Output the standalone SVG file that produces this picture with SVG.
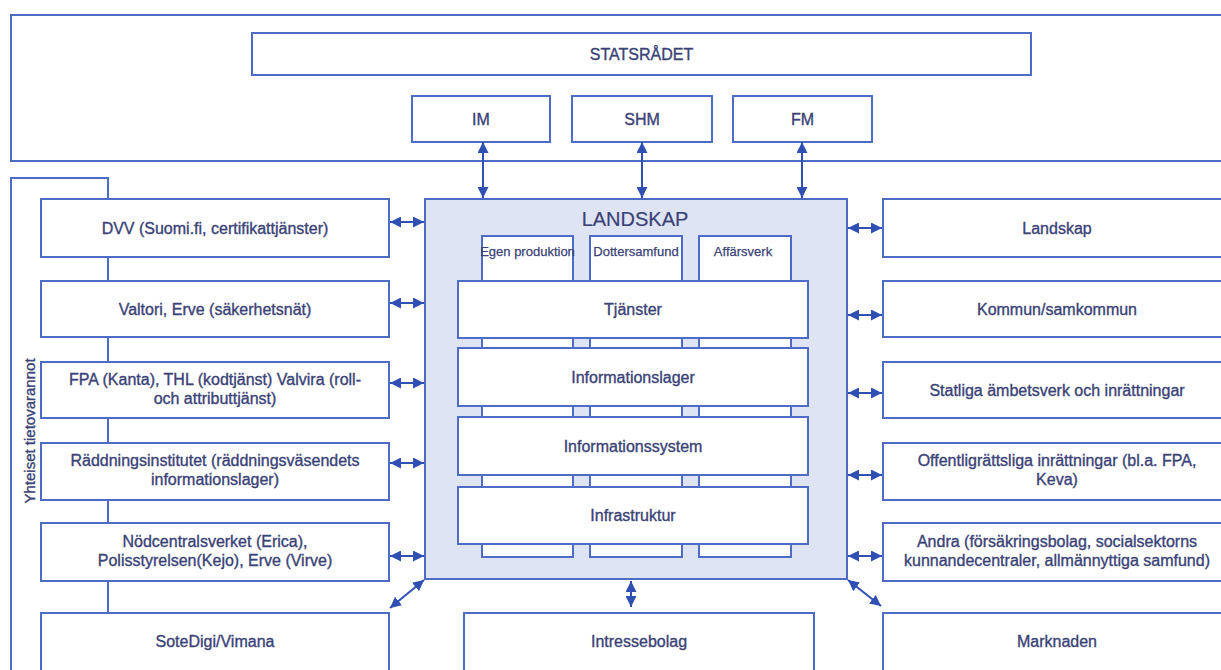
<svg xmlns="http://www.w3.org/2000/svg" width="1221" height="670" viewBox="0 0 1221 670">
<defs>
<style>
.b{fill:#fff;stroke:#4c6cc6;stroke-width:2}
.f{fill:none;stroke:#4c6cc6;stroke-width:2}
.t{font-family:"Liberation Sans",Arial,sans-serif;font-size:16px;fill:#3a4276;stroke:#3a4276;stroke-width:0.35;text-anchor:middle}
.s{font-size:13px;stroke-width:0.25}
.a{stroke:#2f4fb2;stroke-width:2;fill:none;marker-start:url(#ah);marker-end:url(#ah)}
</style>
<marker id="ah" viewBox="0 0 10 10" refX="10" refY="5" markerWidth="11" markerHeight="11" markerUnits="userSpaceOnUse" orient="auto-start-reverse">
<path d="M0,0 L10,5 L0,10 z" fill="#2f4fb2"/>
</marker>
</defs>
<rect width="1221" height="670" fill="#fff"/>

<g id="statsradet-frame"><rect class="f" x="11" y="15" width="1230" height="146"/></g>
<g id="statsradet"><rect class="b" x="252" y="33" width="779" height="42"/><text class="t" x="641.5" y="60">STATSRÅDET</text></g>
<g id="im"><rect class="b" x="412" y="96" width="138" height="46"/><text class="t" x="481" y="125">IM</text></g>
<g id="shm"><rect class="b" x="572" y="96" width="140" height="46"/><text class="t" x="642" y="125">SHM</text></g>
<g id="fm"><rect class="b" x="733" y="96" width="139" height="46"/><text class="t" x="802.5" y="125">FM</text></g>

<g id="yhteiset"><path class="f" d="M108,613 V178 H11 V680"/><text class="t" style="font-size:15px" transform="translate(35,431) rotate(-90)">Yhteiset tietovarannot</text></g>

<g id="dvv"><rect class="b" x="41" y="199" width="348" height="58"/><text class="t" x="215" y="234">DVV (Suomi.fi, certifikattjänster)</text></g>
<g id="valtori"><rect class="b" x="41" y="281" width="348" height="56"/><text class="t" x="215" y="315">Valtori, Erve (säkerhetsnät)</text></g>
<g id="fpa"><rect class="b" x="41" y="362" width="348" height="56"/><text class="t" x="215" y="385">FPA (Kanta), THL (kodtjänst) Valvira (roll-</text><text class="t" x="215" y="404">och attributtjänst)</text></g>
<g id="raddning"><rect class="b" x="41" y="443" width="348" height="57"/><text class="t" x="215" y="466">Räddningsinstitutet (räddningsväsendets</text><text class="t" x="215" y="485">informationslager)</text></g>
<g id="nodcentral"><rect class="b" x="41" y="523" width="348" height="58"/><text class="t" x="215" y="547">Nödcentralsverket (Erica),</text><text class="t" x="215" y="566">Polisstyrelsen(Kejo), Erve (Virve)</text></g>
<g id="sotedigi"><rect class="b" x="41" y="613" width="348" height="70"/><text class="t" x="215" y="647">SoteDigi/Vimana</text></g>

<g id="landskap-r"><rect class="b" x="883" y="199" width="348" height="58"/><text class="t" x="1057" y="234">Landskap</text></g>
<g id="kommun"><rect class="b" x="883" y="281" width="348" height="56"/><text class="t" x="1057" y="315">Kommun/samkommun</text></g>
<g id="statliga"><rect class="b" x="883" y="362" width="348" height="56"/><text class="t" x="1057" y="396">Statliga ämbetsverk och inrättningar</text></g>
<g id="offentlig"><rect class="b" x="883" y="443" width="348" height="57"/><text class="t" x="1057" y="466">Offentligrättsliga inrättningar (bl.a. FPA,</text><text class="t" x="1057" y="485">Keva)</text></g>
<g id="andra"><rect class="b" x="883" y="523" width="348" height="58"/><text class="t" x="1057" y="547">Andra (försäkringsbolag, socialsektorns</text><text class="t" x="1057" y="566">kunnandecentraler, allmännyttiga samfund)</text></g>
<g id="marknaden"><rect class="b" x="883" y="613" width="348" height="70"/><text class="t" x="1057" y="647">Marknaden</text></g>

<g id="intressebolag"><rect class="b" x="464" y="613" width="350" height="70"/><text class="t" x="639" y="647">Intressebolag</text></g>

<g id="landskap">
<rect x="425" y="199" width="422" height="380" fill="#dfe4f4" stroke="#4c6cc6" stroke-width="2"/>
<text class="t" x="635" y="226" style="font-size:20px;stroke-width:0.2">LANDSKAP</text>
</g>
<g id="egen"><rect class="b" x="482" y="236" width="91" height="321"/><text class="t s" x="527.5" y="256">Egen produktion</text></g>
<g id="dotter"><rect class="b" x="590" y="236" width="92" height="321"/><text class="t s" x="636" y="256">Dottersamfund</text></g>
<g id="affar"><rect class="b" x="699" y="236" width="92" height="321"/><text class="t s" x="743" y="256">Affärsverk</text></g>
<g id="tjanster"><rect class="b" x="458" y="281" width="350" height="57"/><text class="t" x="633" y="315">Tjänster</text></g>
<g id="infolager"><rect class="b" x="458" y="348" width="350" height="58"/><text class="t" x="633" y="383">Informationslager</text></g>
<g id="infosystem"><rect class="b" x="458" y="417" width="350" height="58"/><text class="t" x="633" y="452">Informationssystem</text></g>
<g id="infrastruktur"><rect class="b" x="458" y="487" width="350" height="57"/><text class="t" x="633" y="521">Infrastruktur</text></g>

<g id="connectors">
<path class="a" d="M483,142 V198"/>
<path class="a" d="M642,142 V198"/>
<path class="a" d="M802,142 V198"/>
<path class="a" d="M390,222 H424"/>
<path class="a" d="M390,303 H424"/>
<path class="a" d="M390,383 H424"/>
<path class="a" d="M390,463 H424"/>
<path class="a" d="M390,556 H424"/>
<path class="a" d="M848,228 H882"/>
<path class="a" d="M848,315 H882"/>
<path class="a" d="M848,393 H882"/>
<path class="a" d="M848,475 H882"/>
<path class="a" d="M848,556 H882"/>
<path class="a" d="M424,580 L390,608"/>
<path class="a" d="M631,581 V607"/>
<path class="a" d="M848,580 L881,606"/>
</g>
</svg>
